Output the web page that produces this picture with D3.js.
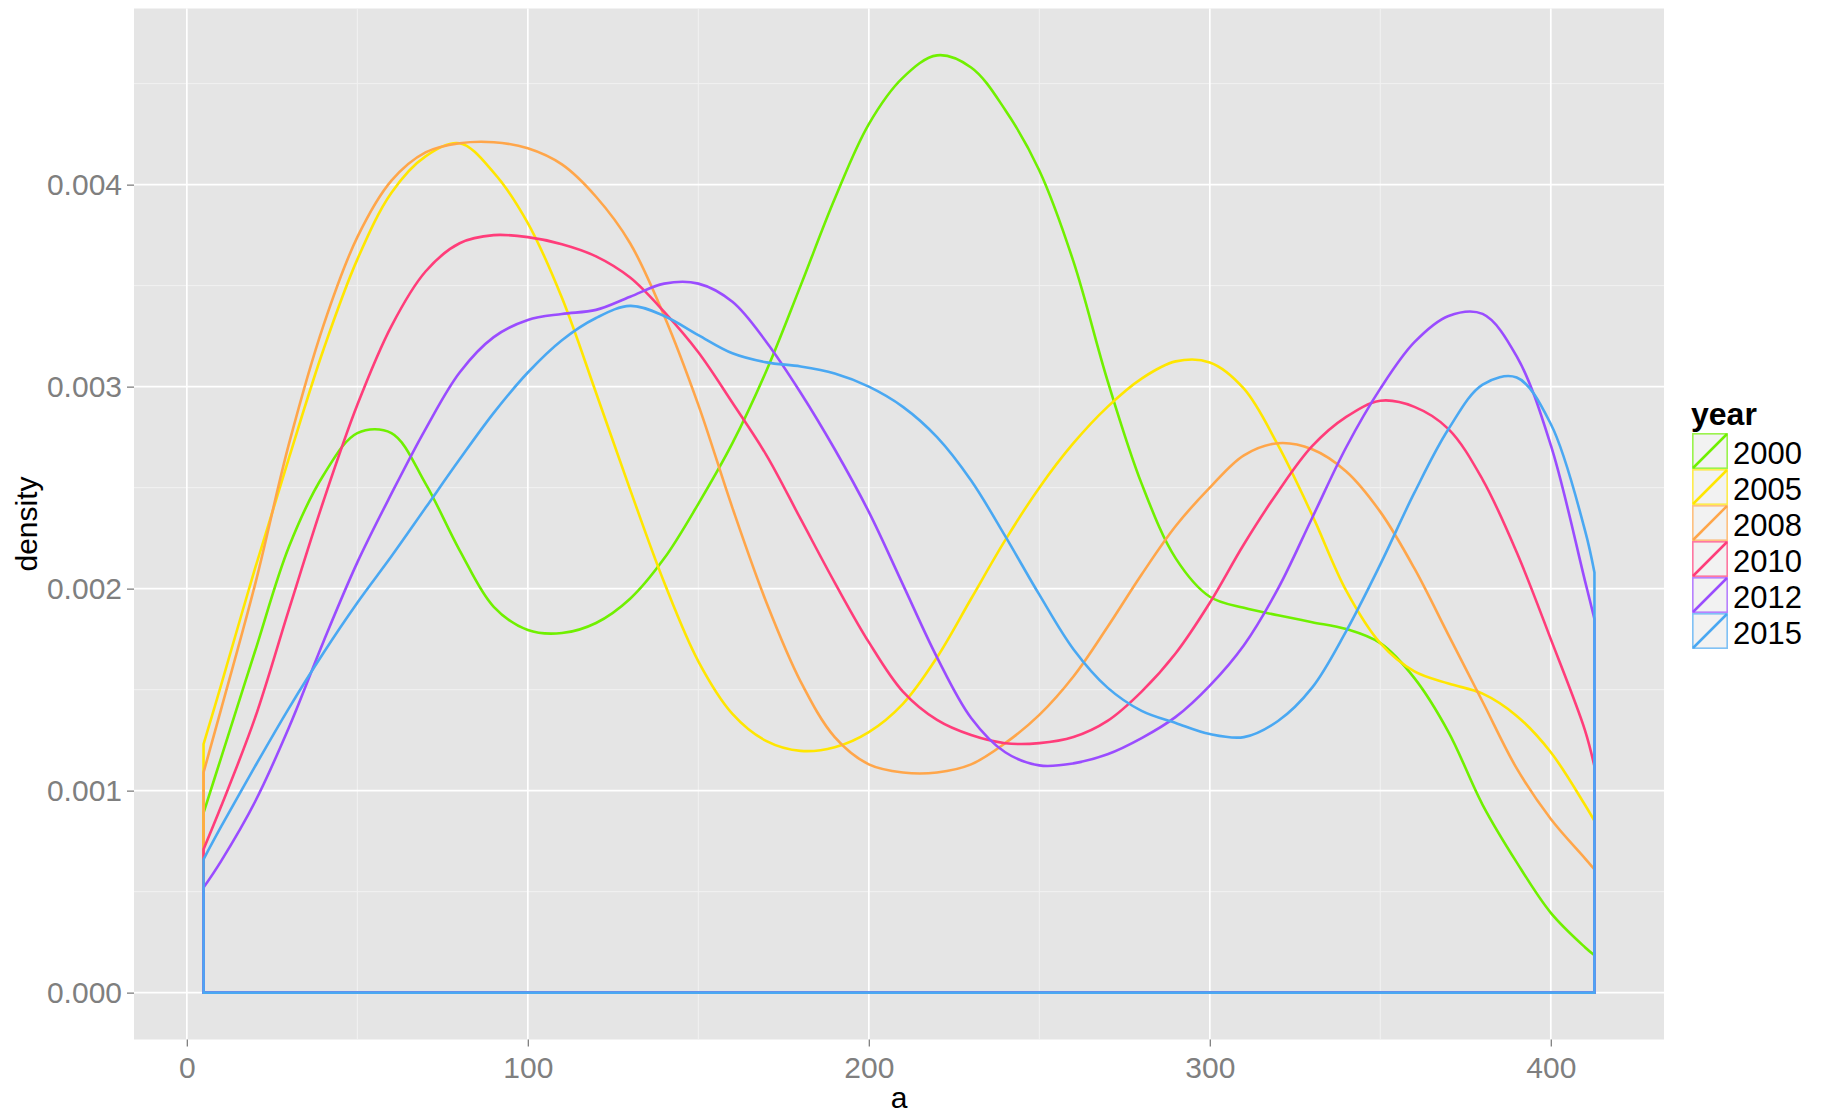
<!DOCTYPE html>
<html>
<head>
<meta charset="utf-8">
<script src="https://cdn.jsdelivr.net/npm/d3@7"></script>
<style>
  body { margin: 0; background: #ffffff; }
  svg { display: block; }
</style>
</head>
<body>
<svg id="chart" width="1825" height="1114"></svg>
<script>
// ---------------- data ----------------
const years = ["2000", "2005", "2008", "2010", "2012", "2015"];
const colors = ["#70F000", "#FFE600", "#FFA64A", "#FF3D7A", "#9A4CFF", "#4AA8F2"];

// evaluation points of the density estimates (variable "a")
const aGrid = [4.9, 10, 20, 30, 40, 50, 60, 70, 80, 90, 100, 110, 120, 130, 140, 150, 160, 170, 180, 190,
  200, 210, 220, 230, 240, 250, 260, 270, 280, 290, 300, 310, 320, 330, 340, 350, 360, 370, 380, 390,
  400, 410, 412.8];

const dens2000 = [0.89e-3, 1.16e-3, 1.69e-3, 2.21e-3, 2.56e-3, 2.77e-3, 2.77e-3, 2.52e-3, 2.19e-3, 1.91e-3,
  1.795e-3, 1.78e-3, 1.83e-3, 1.95e-3, 2.15e-3, 2.42e-3, 2.72e-3, 3.08e-3, 3.50e-3, 3.93e-3,
  4.30e-3, 4.53e-3, 4.64e-3, 4.58e-3, 4.37e-3, 4.07e-3, 3.62e-3, 3.03e-3, 2.52e-3, 2.15e-3,
  1.96e-3, 1.905e-3, 1.868e-3, 1.834e-3, 1.80e-3, 1.73e-3, 1.557e-3, 1.29e-3, 0.93e-3, 0.645e-3,
  0.395e-3, 0.225e-3, 0.185e-3];

const dens2005 = [1.23e-3, 1.52e-3, 2.10e-3, 2.65e-3, 3.18e-3, 3.63e-3, 3.96e-3, 4.14e-3, 4.205e-3, 4.06e-3,
  3.81e-3, 3.44e-3, 2.97e-3, 2.49e-3, 2.03e-3, 1.64e-3, 1.38e-3, 1.245e-3, 1.197e-3, 1.215e-3,
  1.29e-3, 1.43e-3, 1.66e-3, 1.95e-3, 2.24e-3, 2.50e-3, 2.72e-3, 2.90e-3, 3.04e-3, 3.125e-3,
  3.12e-3, 2.99e-3, 2.71e-3, 2.365e-3, 1.99e-3, 1.73e-3, 1.59e-3, 1.53e-3, 1.48e-3, 1.37e-3,
  1.19e-3, 0.93e-3, 0.85e-3];

const dens2008 = [1.09e-3, 1.40e-3, 2.02e-3, 2.72e-3, 3.30e-3, 3.74e-3, 4.02e-3, 4.16e-3, 4.205e-3, 4.21e-3,
  4.18e-3, 4.10e-3, 3.94e-3, 3.71e-3, 3.35e-3, 2.91e-3, 2.40e-3, 1.93e-3, 1.54e-3, 1.265e-3,
  1.13e-3, 1.09e-3, 1.09e-3, 1.13e-3, 1.235e-3, 1.375e-3, 1.565e-3, 1.81e-3, 2.07e-3, 2.31e-3,
  2.50e-3, 2.66e-3, 2.72e-3, 2.69e-3, 2.58e-3, 2.38e-3, 2.10e-3, 1.77e-3, 1.44e-3, 1.11e-3,
  0.86e-3, 0.665e-3, 0.61e-3];

const dens2010 = [0.71e-3, 0.92e-3, 1.36e-3, 1.90e-3, 2.43e-3, 2.91e-3, 3.30e-3, 3.57e-3, 3.71e-3, 3.75e-3,
  3.74e-3, 3.705e-3, 3.645e-3, 3.54e-3, 3.37e-3, 3.17e-3, 2.92e-3, 2.66e-3, 2.345e-3, 2.03e-3,
  1.735e-3, 1.49e-3, 1.35e-3, 1.275e-3, 1.235e-3, 1.235e-3, 1.265e-3, 1.345e-3, 1.49e-3, 1.68e-3,
  1.93e-3, 2.22e-3, 2.48e-3, 2.705e-3, 2.85e-3, 2.93e-3, 2.90e-3, 2.79e-3, 2.54e-3, 2.18e-3,
  1.75e-3, 1.30e-3, 1.12e-3];

const dens2012 = [0.52e-3, 0.65e-3, 0.945e-3, 1.315e-3, 1.735e-3, 2.13e-3, 2.47e-3, 2.79e-3, 3.07e-3, 3.245e-3,
  3.33e-3, 3.36e-3, 3.38e-3, 3.445e-3, 3.51e-3, 3.51e-3, 3.42e-3, 3.22e-3, 2.97e-3, 2.69e-3,
  2.38e-3, 2.02e-3, 1.66e-3, 1.36e-3, 1.19e-3, 1.125e-3, 1.135e-3, 1.18e-3, 1.26e-3, 1.365e-3,
  1.52e-3, 1.72e-3, 2.00e-3, 2.35e-3, 2.70e-3, 2.99e-3, 3.22e-3, 3.35e-3, 3.36e-3, 3.15e-3,
  2.71e-3, 2.04e-3, 1.85e-3];

const dens2015 = [0.66e-3, 0.82e-3, 1.12e-3, 1.41e-3, 1.68e-3, 1.93e-3, 2.16e-3, 2.40e-3, 2.64e-3, 2.87e-3,
  3.07e-3, 3.23e-3, 3.34e-3, 3.40e-3, 3.35e-3, 3.255e-3, 3.165e-3, 3.12e-3, 3.10e-3, 3.065e-3,
  3.00e-3, 2.90e-3, 2.75e-3, 2.535e-3, 2.26e-3, 1.97e-3, 1.70e-3, 1.51e-3, 1.395e-3, 1.335e-3,
  1.28e-3, 1.265e-3, 1.345e-3, 1.51e-3, 1.79e-3, 2.12e-3, 2.475e-3, 2.79e-3, 3.01e-3, 3.045e-3,
  2.815e-3, 2.29e-3, 2.08e-3];

const seriesValues = [dens2000, dens2005, dens2008, dens2010, dens2012, dens2015];

const xTicks = [0, 100, 200, 300, 400];
const xMinorTicks = [50, 150, 250, 350];
const yTicks = [0, 0.001, 0.002, 0.003, 0.004];
const yMinorTicks = [0.0005, 0.0015, 0.0025, 0.0035, 0.0045];
const xTitle = "a";
const yTitle = "density";
const legendTitle = "year";

// ---------------- layout ----------------
const FONT = "'Liberation Sans', Arial, Helvetica, sans-serif";
const panel = { left: 134, right: 1664, top: 8.5, bottom: 1039.5 };

const svg = d3.select("#chart");

const xExt = d3.extent(aGrid);
const xPad = (xExt[1] - xExt[0]) * 0.05;
const x = d3.scaleLinear()
  .domain([xExt[0] - xPad, xExt[1] + xPad])
  .range([panel.left, panel.right]);

const yMax = d3.max(seriesValues, s => d3.max(s));
const y = d3.scaleLinear()
  .domain([-yMax * 0.05, yMax * 1.05])
  .range([panel.bottom, panel.top]);

// panel background
svg.append("rect")
  .attr("x", panel.left).attr("y", panel.top)
  .attr("width", panel.right - panel.left)
  .attr("height", panel.bottom - panel.top)
  .attr("fill", "#E5E5E5");

const grid = svg.append("g");
// minor grid
grid.selectAll("line.xminor").data(xMinorTicks).enter().append("line")
  .attr("x1", d => x(d)).attr("x2", d => x(d))
  .attr("y1", panel.top).attr("y2", panel.bottom)
  .attr("stroke", "#F2F2F2").attr("stroke-width", 1);
grid.selectAll("line.yminor").data(yMinorTicks).enter().append("line")
  .attr("y1", d => y(d)).attr("y2", d => y(d))
  .attr("x1", panel.left).attr("x2", panel.right)
  .attr("stroke", "#F2F2F2").attr("stroke-width", 1);
// major grid
grid.selectAll("line.xmajor").data(xTicks).enter().append("line")
  .attr("x1", d => x(d)).attr("x2", d => x(d))
  .attr("y1", panel.top).attr("y2", panel.bottom)
  .attr("stroke", "#FFFFFF").attr("stroke-width", 1.7);
grid.selectAll("line.ymajor").data(yTicks).enter().append("line")
  .attr("y1", d => y(d)).attr("y2", d => y(d))
  .attr("x1", panel.left).attr("x2", panel.right)
  .attr("stroke", "#FFFFFF").attr("stroke-width", 1.7);

// density outlines (polygon: baseline -> curve -> baseline)
const line = d3.line()
  .x(d => x(d[0]))
  .y(d => y(d[1]))
  .curve(d3.curveCatmullRom.alpha(0.5));

const curves = svg.append("g");
seriesValues.forEach((vals, i) => {
  const pts = aGrid.map((a, j) => [a, vals[j]]);
  const top = line(pts);
  const x0 = x(pts[0][0]), x1 = x(pts[pts.length - 1][0]), yb = y(0);
  const d = `M${x0},${yb}L` + top.slice(1) + `L${x1},${yb}Z`;
  curves.append("path")
    .attr("d", d)
    .attr("fill", "none")
    .attr("stroke", colors[i])
    .attr("stroke-width", 2.6)
    .attr("stroke-linejoin", "miter");
});

// axes
const yAxis = svg.append("g")
  .attr("transform", `translate(${panel.left},0)`)
  .call(d3.axisLeft(y).tickValues(yTicks).tickSize(7).tickPadding(5).tickFormat(d3.format(".3f")));
const xAxis = svg.append("g")
  .attr("transform", `translate(0,${panel.bottom})`)
  .call(d3.axisBottom(x).tickValues(xTicks).tickSize(7).tickPadding(10).tickFormat(d3.format("d")));

[yAxis, xAxis].forEach(ax => {
  ax.select(".domain").remove();
  ax.attr("font-family", FONT).attr("font-size", 30);
  ax.selectAll(".tick line").attr("stroke", "#7F7F7F").attr("stroke-width", 1.3);
  ax.selectAll(".tick text").attr("fill", "#7F7F7F");
});

// axis titles
svg.append("text")
  .attr("x", (panel.left + panel.right) / 2)
  .attr("y", 1108)
  .attr("text-anchor", "middle")
  .attr("font-family", FONT).attr("font-size", 30)
  .attr("fill", "#000000")
  .text(xTitle);

svg.append("text")
  .attr("transform", `translate(37,${(panel.top + panel.bottom) / 2}) rotate(-90)`)
  .attr("text-anchor", "middle")
  .attr("font-family", FONT).attr("font-size", 30)
  .attr("fill", "#000000")
  .text(yTitle);

// legend
const leg = svg.append("g").attr("transform", "translate(1692,433)");
const key = 36;
leg.append("text")
  .attr("x", -1).attr("y", -8)
  .attr("font-family", FONT).attr("font-size", 32).attr("font-weight", "bold")
  .attr("fill", "#000000")
  .text(legendTitle);

years.forEach((yr, i) => {
  const g = leg.append("g").attr("transform", `translate(0,${i * key})`);
  g.append("rect")
    .attr("x", 0.8).attr("y", 0.8)
    .attr("width", key - 1.6).attr("height", key - 1.6)
    .attr("fill", "#F2F2F2")
    .attr("stroke", colors[i]).attr("stroke-opacity", 0.7).attr("stroke-width", 1.6);
  g.append("line")
    .attr("x1", 1).attr("y1", key - 1)
    .attr("x2", key - 1).attr("y2", 1)
    .attr("stroke", colors[i]).attr("stroke-width", 2.5);
  g.append("text")
    .attr("x", 41).attr("y", 31)
    .attr("font-family", FONT).attr("font-size", 31)
    .attr("fill", "#000000")
    .text(yr);
});
</script>
</body>
</html>
